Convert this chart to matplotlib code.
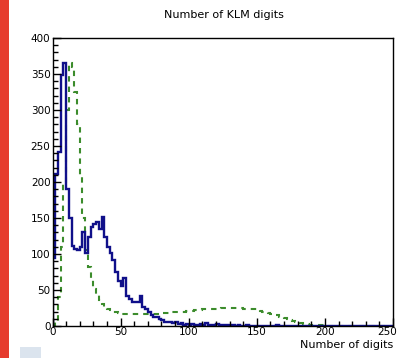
import numpy as np
import matplotlib
matplotlib.use("Agg")
import matplotlib.pyplot as plt
from matplotlib.patches import Rectangle
from matplotlib.ticker import MultipleLocator
from matplotlib.transforms import ScaledTranslation

plt.rcParams["font.family"] = ["DejaVu Sans"]

BLUE = "#10108a"
GREEN = "#3c8c2c"
RED_BAND = "#e63b2e"

# 2-digit-wide bins from 0 to 250
bin_edges = np.arange(0, 252, 2)
x_ticks = [0, 50, 100, 150, 200, 250]

# reconstructed hits (solid, blue)
reco_counts = [
    95, 211, 241, 349, 365, 190, 150, 111, 107, 106,
    110, 131, 101, 123, 138, 142, 145, 134, 152, 124,
    110, 101, 92, 75, 62, 55, 66, 41, 38, 34,
    33, 34, 41, 26, 24, 19, 15, 13, 12, 10,
    8, 6, 6, 5, 4, 5, 3, 4, 2, 3,
    2, 3, 2, 1, 3, 2, 4, 2, 1, 2,
    3, 1, 2, 1, 1, 0, 1, 0, 1, 0,
    0, 1, 0, 0, 0, 0, 0, 0, 0, 0,
    0, 0, 1, 0, 0, 0, 0, 0, 0, 0,
    0, 0, 0, 0, 0, 0, 0, 0, 0, 0,
    0, 0, 0, 0, 0, 0, 0, 0, 0, 0,
    0, 0, 0, 0, 0, 0, 0, 0, 0, 0,
    0, 0, 0, 0, 0,
]

# reference distribution (dashed, green)
ref_counts = [
    0, 5, 40, 110, 200, 300, 365, 360, 325, 280,
    210, 150, 105, 82, 65, 52, 43, 36, 31, 27,
    24, 22, 20, 19, 18, 17, 17, 16, 16, 16,
    16, 16, 16, 16, 17, 17, 17, 17, 17, 18,
    18, 18, 18, 19, 19, 19, 20, 20, 20, 21,
    21, 21, 22, 22, 22, 23, 23, 23, 24, 24,
    24, 24, 25, 25, 25, 25, 25, 25, 25, 25,
    24, 24, 24, 23, 23, 22, 21, 20, 19, 18,
    17, 16, 15, 13, 12, 11, 10, 8, 7, 6,
    5, 4, 3, 3, 2, 2, 1, 1, 1, 1,
    1, 0, 0, 0, 0, 0, 0, 0, 0, 0,
    0, 0, 0, 0, 0, 0, 0, 0, 0, 0,
    0, 0, 0, 0, 0,
]

fig = plt.figure(figsize=(3.99, 3.58), dpi=100)

# side band and small swatch at the bottom
fig.patches.append(Rectangle((0, 0), 9 / 399, 1, transform=fig.transFigure,
                             facecolor=RED_BAND, edgecolor="none"))
fig.patches.append(Rectangle((20 / 399, 0), 21 / 399, 11 / 358, transform=fig.transFigure,
                             facecolor="#dbe4ee", edgecolor="none"))

ax = fig.add_axes([0.1316, 0.0894, 0.8534, 0.8046])
ax.stairs(ref_counts, bin_edges, color=GREEN, linewidth=1.5, linestyle=(0, (2.6, 2.4)))
ax.stairs(reco_counts, bin_edges, color=BLUE, linewidth=1.7)

ax.set_xlim(0, 250)
ax.set_ylim(0, 400)
ax.set_xticks(x_ticks)
ax.xaxis.set_minor_locator(MultipleLocator(10))
ax.yaxis.set_major_locator(MultipleLocator(50))
ax.yaxis.set_minor_locator(MultipleLocator(10))
ax.tick_params(which="both", direction="in", top=False, right=False, width=1.0,
               labelsize=7.5, colors="black")
ax.tick_params(which="major", length=6)
ax.tick_params(which="minor", length=3.5)
ax.tick_params(axis="x", pad=1.0)
ax.tick_params(axis="y", pad=1.5)
for spine in ax.spines.values():
    spine.set_linewidth(1.0)

# last x label sits at the figure edge; pull it in a little
last = ax.xaxis.get_major_ticks()[-1].label1
last.set_transform(last.get_transform() + ScaledTranslation(-6 / 100, 0, fig.dpi_scale_trans))

fig.text(0.56, 0.958, "Number of KLM digits", ha="center", va="center", fontsize=8)
fig.text(0.985, 0.036, "Number of digits", ha="right", va="center", fontsize=8)

fig.savefig("out.png", dpi=100)
